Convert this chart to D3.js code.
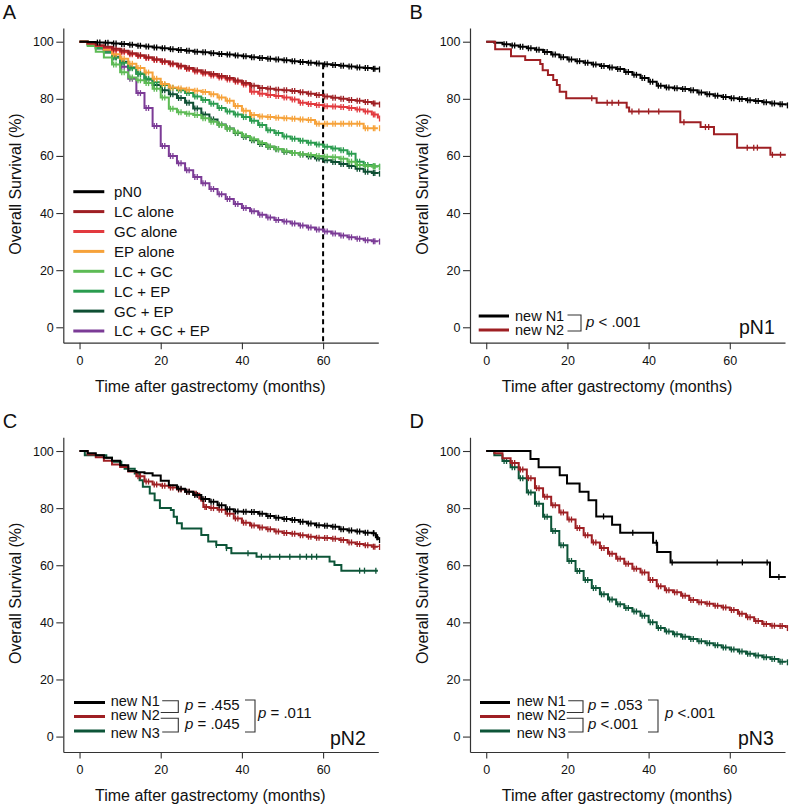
<!DOCTYPE html>
<html><head><meta charset="utf-8">
<script src="https://cdn.jsdelivr.net/npm/d3@7"></script>
<style>
body{margin:0;background:#fff}
svg{display:block}
text{font-family:"Liberation Sans",Arial,Helvetica,sans-serif;fill:#111}
</style>
</head><body>
<svg id="chart" width="792" height="807"></svg>
<script>
// ---------- ticks ----------
const monthTicks = [0, 20, 40, 60];
const survTicks = [0, 20, 40, 60, 80, 100];

// ---------- Panel A (time grid in months, survival %) ----------
const A_t = [0,2,4,6,8,10,12,14,16,18,20,22,24,26,28,30,32,34,36,38,40,42,44,46,48,50,52,54,56,58,60,62,64,66,68,70,72,73.5];
const A_names = ["pN0","LC alone","GC alone","EP alone","LC + GC","LC + EP","GC + EP","LC + GC + EP"];
const A_pN0  = [100,99.9,99.7,99.6,99.4,99.2,98.9,98.6,98.3,98.0,97.7,97.4,97.1,96.8,96.5,96.3,96.0,95.7,95.5,95.2,94.9,94.6,94.3,94.0,93.8,93.5,93.2,92.9,92.6,92.4,92.1,91.8,91.6,91.3,91.0,90.8,90.5,90.3];
const A_LC   = [100,99.5,98.8,98.2,97.5,96.8,96.0,95.3,94.6,93.9,93.2,92.4,91.6,90.8,90.0,89.3,88.7,88.0,87.3,86.4,85.5,84.6,83.8,83.5,83.2,83.0,82.7,82.3,81.8,81.3,80.8,80.4,80.0,79.6,79.3,78.9,78.4,78.0];
const A_GC   = [100,99.3,98.5,97.8,97.0,96.3,95.6,95.0,94.3,93.6,92.9,92.1,91.3,90.4,89.6,88.9,88.2,87.5,86.8,86.0,85.0,82.5,81.8,81.3,81.0,80.5,79.8,78.6,78.2,77.8,77.4,77.3,77.1,76.8,76.3,75.6,74.5,73.1];
const A_EP   = [100,99.5,98.5,97.2,95.6,94.0,92.3,90.8,89.2,87.0,85.2,84.0,83.6,83.2,82.8,82.4,81.6,80.5,79.3,77.5,75.8,74.3,73.8,73.6,73.4,73.2,73.0,72.8,72.6,71.3,71.3,71.3,71.3,71.3,71.3,69.7,69.7,69.7];
const A_LCGC = [100,98.5,96.5,94.5,92.0,89.3,87.5,86.5,85.5,83.5,80.5,76.5,75.3,74.8,74.3,73.2,72.0,70.8,69.5,68.2,67.0,65.8,64.5,63.3,62.4,61.6,61.0,60.6,60.3,60.0,59.7,59.5,59.0,58.0,56.8,56.5,56.3,56.2];
const A_LCEP = [100,99.0,97.8,96.3,94.5,92.6,90.7,88.8,87.0,85.8,84.8,83.8,83.0,82.0,80.8,79.6,78.3,76.8,75.6,74.5,73.6,72.3,70.8,69.0,68.0,66.8,66.0,65.3,64.6,64.0,63.2,62.6,62.0,60.8,58.0,56.8,56.4,56.2];
const A_GCEP = [100,99.0,97.6,96.2,94.6,93.0,91.0,88.8,86.8,84.8,83.0,81.6,80.3,78.6,76.6,74.5,72.8,71.0,69.6,68.0,66.7,65.5,64.2,63.2,62.3,61.5,61.0,60.5,59.8,59.1,58.5,57.9,57.2,56.5,55.5,54.5,54.0,53.8];
const A_ALL  = [100,99.3,98.3,96.8,94.7,91.2,87.0,82.0,76.8,70.5,63.5,60.0,57.4,55.0,52.6,50.4,48.4,46.6,44.9,43.2,41.8,40.6,39.4,38.4,37.6,37.0,36.3,35.6,34.9,34.2,33.5,32.8,32.1,31.5,31.0,30.5,30.1,30.0];
const A_colors = ["#000000","#9e1f23","#e23a3f","#f6a23a","#5dbb55","#2a9c4f","#0e4f33","#7b3b96"];
const A_cutoff = 60;

// ---------- Panel B (pN1) ----------
const B_t = [0,2,4,6,8,10,12,14,16,18,20,22,24,26,28,30,32,34,36,38,40,42,44,46,48,50,52,54,56,58,60,62,64,66,68,70,72,73.8];
const B_N1 = [100,99.6,99.1,98.7,98.2,97.7,97.2,96.4,95.5,94.6,93.8,93.2,92.6,92.0,91.5,91.0,90.4,89.4,88.4,87.3,86.0,84.6,84.0,83.7,83.4,83.0,82.2,81.6,81.1,80.6,80.2,79.9,79.5,79.2,78.8,78.4,78.1,77.7];
const B_N2 = [[0,100],[2.2,97.4],[6.1,94.9],[9.6,93.6],[13.3,92.2],[13.9,90.0],[15.2,88.3],[16.5,86.6],[17.4,84.8],[18.1,82.5],[19.7,80.2],[27.2,78.6],[34.6,77.0],[35.2,75.6],[47.8,71.8],[52.8,70.1],[56.1,67.6],[61.8,62.9],[70.0,60.4],[73.8,60.4]];
const B_N2_censor = [26.0,29.8,31.0,32.6,35.9,37.6,40.0,42.5,48.7,54.0,54.8,64.3,65.9,66.8,70.5,72.5];

// ---------- Panel C (pN2) ----------
const C_N1 = [[0,100],[2,99.2],[4,98.5],[6,97.6],[8,96.6],[10,95.0],[12,93.0],[14,92.6],[16,92.2],[18,91.4],[20,89.6],[22,88.0],[24,86.8],[26,85.7],[28,84.6],[30,83.2],[32,82.2],[34,81.0],[36,79.6],[38,78.8],[40,78.7],[42,78.6],[44,78.0],[46,77.2],[48,76.6],[50,76.2],[52,75.8],[54,75.2],[56,74.6],[58,74.0],[60,73.8],[62,73.5],[64,72.6],[66,72.2],[68,71.8],[70,71.4],[72,71.2],[73,69.8],[73.5,68.8]];
const C_N2 = [[0,100],[2,98.8],[4,97.8],[6,96.6],[8,95.3],[10,94.4],[12,92.8],[14,91.2],[16,89.3],[18,88.3],[20,87.8],[22,87.2],[24,86.5],[26,85.7],[28,85.0],[29.5,83.4],[30.5,80.4],[32,80.0],[34,79.4],[36,78.0],[38,76.4],[40,74.9],[42,73.9],[44,73.2],[46,72.6],[48,71.8],[50,71.3],[52,71.0],[54,70.5],[56,70.0],[58,69.6],[60,69.5],[62,69.3],[64,68.8],[66,68.0],[68,67.4],[70,67.0],[72,66.5],[73.5,66.4]];
const C_N3 = [[0,100],[1.3,98.5],[6.6,97.6],[8,96.2],[10.3,95.0],[11.1,93.8],[13.6,92.1],[14.8,89.8],[15.6,87.5],[17.3,85.1],[18.5,82.8],[19.8,80.0],[22.5,79.3],[23.2,77.0],[24,74.7],[25.2,72.9],[30,70.6],[31.7,68.3],[33.7,67.1],[36.2,66.0],[37.4,64.2],[43.6,63.0],[61.6,61.3],[62.8,60.1],[64.5,58.1],[73.5,58.1]];
const C_N3_censor = [33.7,36.2,41.5,44.8,46.9,49.3,51.8,54.3,55.9,57.2,58.4,69.0,70.2,73.0];

// ---------- Panel D (pN3) ----------
const D_t = [0,2,4,6,8,10,12,14,16,18,20,22,24,26,28,30,32,34,36,38,40,42,44,46,48,50,52,54,56,58,60,62,64,66,68,70,72,73.8];
const D_N1 = [[0,100],[10.9,97.2],[12.9,94.3],[18.1,91.5],[19.9,88.6],[23.0,85.7],[25.2,82.8],[27.1,77.1],[31.0,74.2],[33.0,71.4],[41.1,67.9],[42.1,64.6],[45.4,61.0],[69.9,55.9],[73.8,55.9]];
const D_N1_censor = [28.9,36.1,41.9,45.8,56.9,63.1,69.2,72.1];
const D_N2 = [100,99.2,97.5,95.8,93.5,90.5,87.0,84.0,81.0,78.5,76.0,73.0,70.5,68.0,66.0,64.0,62.3,60.5,58.8,57.5,54.8,52.6,51.2,50.5,49.3,47.8,47.0,46.5,45.8,45.2,44.3,43.0,41.8,40.5,39.4,38.8,38.7,38.0];
const D_N3 = [100,98.5,96.5,94.3,90.5,85.5,81.5,77.0,72.0,67.0,61.5,58.0,54.8,52.0,49.8,48.0,46.3,45.0,43.8,42.3,40.0,38.0,36.8,35.8,35.0,34.2,33.4,32.7,32.0,31.2,30.5,29.8,29.0,28.4,27.8,27.2,26.2,26.0];

const newNames = ["new N1","new N2","new N3"];
const newColors = ["#000000","#9e1f23","#0d5538"];

// ---------- drawing ----------
const svg = d3.select("#chart");
const zip = (t, v) => t.map((d, i) => [d, v[i]]);

function panel(cfg) {
  const {ox, oy} = cfg;
  const W = 315;
  const x = d3.scaleLinear().domain([-4, 73.6]).range([ox, ox + W]);
  const y = d3.scaleLinear().domain([-5.4, 104.8]).range([oy + 342.7, oy + 28]);
  const g = svg.append("g");

  const xa = g.append("g").attr("transform", `translate(0,${oy + 342.7})`)
    .call(d3.axisBottom(x).tickValues(monthTicks).tickSize(6.5).tickSizeOuter(0).tickPadding(7));
  const ya = g.append("g").attr("transform", `translate(${ox},0)`)
    .call(d3.axisLeft(y).tickValues(survTicks).tickSize(7).tickSizeOuter(0).tickPadding(2.5));
  [xa, ya].forEach(a => {
    a.select(".domain").attr("stroke", "#333").attr("stroke-width", 1.2);
    a.selectAll(".tick line").attr("stroke", "#333").attr("stroke-width", 1.1);
    a.selectAll(".tick text").style("font-size", "12.5px").attr("fill", "#1a1a1a")
      .style("font-family", '"Liberation Sans",Arial,sans-serif');
  });

  g.append("text").attr("x", ox + 147).attr("y", oy + 391.5).attr("text-anchor", "middle")
    .style("font-size", "16px").text("Time after gastrectomy (months)");
  g.append("text").attr("transform", `translate(${ox - 42},${oy + 184}) rotate(-90)`)
    .attr("text-anchor", "middle").style("font-size", "16px").text("Overall Survival (%)");
  g.append("text").attr("x", ox - 60.5).attr("y", oy + 18.5).style("font-size", "20px").text(cfg.letter);

  const line = d3.line().x(d => x(d[0])).y(d => y(d[1])).curve(d3.curveStepAfter);
  const valAt = (data, t) => { let v = data[0][1]; for (const d of data) { if (d[0] <= t) v = d[1]; } return v; };

  if (cfg.extra) cfg.extra(g, x, y);

  cfg.series.forEach(s => {
    g.append("path").datum(s.data).attr("d", line).attr("fill", "none")
      .attr("stroke", s.color).attr("stroke-width", 2).attr("stroke-linejoin", "miter");
    let cens = [];
    if (s.censor) cens = s.censor.map(t => [t, valAt(s.data, t)]);
    else if (s.denseFrom !== undefined) {
      s.data.forEach((d, i) => {
        if (i === 0 || d[0] < s.denseFrom) return;
        cens.push([d[0] + 0.4, d[1]]);
        if (i < s.data.length - 1) cens.push([(d[0] + s.data[i + 1][0]) / 2, d[1]]);
      });
    }
    g.selectAll(null).data(cens).join("line")
      .attr("x1", d => x(d[0])).attr("x2", d => x(d[0]))
      .attr("y1", d => y(d[1]) - 3).attr("y2", d => y(d[1]) + 3)
      .attr("stroke", s.color).attr("stroke-width", 1.3);
  });

  if (cfg.legend) cfg.legend(g, x, y);
}

function pText(g, xx, yy, rest) {
  const t = g.append("text").attr("x", xx).attr("y", yy).style("font-size", "15px");
  t.append("tspan").style("font-style", "italic").text("p");
  t.append("tspan").text(rest);
}
function path(g, pts) {
  g.append("path").attr("d", d3.line()(pts)).attr("fill", "none").attr("stroke", "#333").attr("stroke-width", 1.1);
}

// Panel A
const A_vals = [A_pN0, A_LC, A_GC, A_EP, A_LCGC, A_LCEP, A_GCEP, A_ALL];
panel({
  ox: 63.3, oy: 0, letter: "A",
  series: A_vals.map((v, i) => ({data: zip(A_t, v), color: A_colors[i], denseFrom: i === 0 ? 4 : 8})).reverse(),
  extra: (g, x, y) => {
    g.append("line").attr("x1", x(A_cutoff)).attr("x2", x(A_cutoff))
      .attr("y1", y(A_pN0[A_t.indexOf(A_cutoff)])).attr("y2", y(-5.4))
      .attr("stroke", "#000").attr("stroke-width", 2).attr("stroke-dasharray", "5,3.5");
  },
  legend: (g) => {
    A_names.forEach((n, i) => {
      const yy = 191.7 + i * 19.9;
      g.append("line").attr("x1", 73.3).attr("x2", 104.3).attr("y1", yy).attr("y2", yy)
        .attr("stroke", A_colors[i]).attr("stroke-width", 3);
      g.append("text").attr("x", 114).attr("y", yy + 5.4).style("font-size", "15px").text(n);
    });
  }
});

// Panel B
panel({
  ox: 470, oy: 0, letter: "B",
  series: [
    {data: zip(B_t, B_N1), color: newColors[0], denseFrom: 4},
    {data: B_N2, color: newColors[1], censor: B_N2_censor}
  ],
  legend: (g) => {
    [316, 330].forEach((yy, i) => {
      g.append("line").attr("x1", 478.7).attr("x2", 509).attr("y1", yy).attr("y2", yy)
        .attr("stroke", newColors[i]).attr("stroke-width", 3);
      g.append("text").attr("x", 515).attr("y", yy + 5.2).style("font-size", "14.5px").text(newNames[i]);
    });
    path(g, [[567.5, 315], [581, 315], [581, 331], [567.5, 331]]);
    pText(g, 586, 327, " < .001");
    g.append("text").attr("x", 739).attr("y", 333.5).style("font-size", "19.5px").text("pN1");
  }
});

// three-group legend (C and D)
function legend3(g, o, p) {
  const ox = o.ox, oy = o.oy;
  const lineY = [293.2, 307.2, 321.7], textY = [291.7, 305.7, 323.7];
  lineY.forEach((yy, i) => {
    g.append("line").attr("x1", ox + o.lx0).attr("x2", ox + o.lx1).attr("y1", oy + yy).attr("y2", oy + yy)
      .attr("stroke", newColors[i]).attr("stroke-width", 3);
    g.append("text").attr("x", ox + o.tx).attr("y", oy + textY[i] + 5.3).style("font-size", "14.5px").text(newNames[i]);
  });
  const bx = ox + o.bx, te = ox + o.tx + 51;
  path(g, [[te + 0.5, oy + 291.4], [bx, oy + 291.4], [bx, oy + 303.2], [te - 1, oy + 303.2]]);
  path(g, [[te - 1, oy + 309], [bx, oy + 309], [bx, oy + 322.7], [te + 0.5, oy + 322.7]]);
  pText(g, ox + o.p1x, oy + 301, p[0]);
  pText(g, ox + o.p1x, oy + 319.3, p[1]);
  path(g, [[ox + o.Bx0, oy + 290.7], [ox + o.Bx1, oy + 290.7], [ox + o.Bx1, oy + 322.7], [ox + o.Bx0, oy + 322.7]]);
  pText(g, ox + o.p2x, oy + 309, p[2]);
  g.append("text").attr("x", ox + o.nx).attr("y", oy + 335.7).style("font-size", "19.5px").text(p[3]);
}

// Panel C
panel({
  ox: 63.3, oy: 409.3, letter: "C",
  series: [
    {data: C_N3, color: newColors[2], censor: C_N3_censor},
    {data: C_N2, color: newColors[1], denseFrom: 14},
    {data: C_N1, color: newColors[0], denseFrom: 24}
  ],
  legend: (g) => legend3(g, {ox: 63.3, oy: 409.3, lx0: 10.7, lx1: 41.7, tx: 47.4, bx: 115, p1x: 121.7, Bx0: 181.7, Bx1: 191.7, p2x: 194.7, nx: 266.7},
    [" = .455", " = .045", " = .011", "pN2"])
});

// Panel D
panel({
  ox: 470, oy: 409.3, letter: "D",
  series: [
    {data: zip(D_t, D_N3), color: newColors[2], denseFrom: 4},
    {data: zip(D_t, D_N2), color: newColors[1], denseFrom: 6},
    {data: D_N1, color: newColors[0], censor: D_N1_censor}
  ],
  legend: (g) => legend3(g, {ox: 470, oy: 409.3, lx0: 10, lx1: 40, tx: 46.7, bx: 113, p1x: 118, Bx0: 178, Bx1: 188, p2x: 195, nx: 268},
    [" = .053", " <.001", " <.001", "pN3"])
});
</script>
</body></html>
